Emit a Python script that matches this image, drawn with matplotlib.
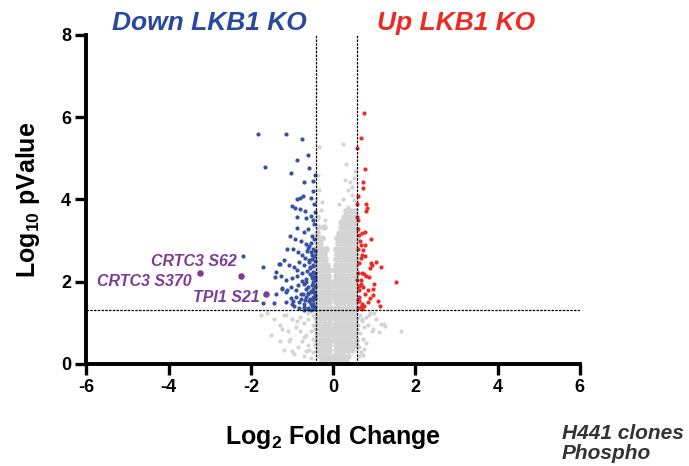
import matplotlib
matplotlib.use('Agg')
import matplotlib.pyplot as plt

plt.rcParams['font.family'] = ['Liberation Sans', 'DejaVu Sans']
plt.rcParams['mathtext.fontset'] = 'custom'
plt.rcParams['mathtext.rm'] = 'Liberation Sans:bold'
plt.rcParams['mathtext.default'] = 'rm'
plt.rcParams['axes.unicode_minus'] = False

# Thresholds
fc_low = -0.415
fc_high = 0.585
p_cut = 1.3

# Gray (not significant) core, read row by row: y level -> x positions
core_y = [0.08, 0.20, 0.33, 0.46, 0.59, 0.72, 0.85, 0.98, 1.11, 1.24, 1.37, 1.50,
          1.63, 1.76, 1.89, 2.02, 2.15, 2.28, 2.41, 2.54, 2.67, 2.80, 2.93, 3.06,
          3.19, 3.32, 3.45, 3.58, 3.72]
core_x = [
    [-0.28, -0.18, -0.08, 0.04, 0.13, 0.22, 0.31],
    [-0.33, -0.24, -0.14, -0.05, 0.05, 0.15, 0.25, 0.36],
    [-0.38, -0.29, -0.19, -0.09, 0.06, 0.16, 0.26, 0.36, 0.45],
    [-0.40, -0.31, -0.21, -0.11, 0.07, 0.17, 0.27, 0.37, 0.47, 0.55],
    [-0.41, -0.32, -0.22, -0.12, -0.04, 0.07, 0.18, 0.28, 0.38, 0.48, 0.56],
    [-0.40, -0.30, -0.20, -0.10, -0.03, 0.05, 0.14, 0.24, 0.34, 0.44, 0.54],
    [-0.41, -0.33, -0.23, -0.13, -0.04, 0.06, 0.16, 0.26, 0.36, 0.46, 0.56],
    [-0.39, -0.29, -0.19, -0.09, 0.05, 0.13, 0.23, 0.33, 0.43, 0.53],
    [-0.41, -0.31, -0.21, -0.11, -0.04, 0.06, 0.16, 0.26, 0.36, 0.46, 0.56],
    [-0.40, -0.30, -0.20, -0.10, 0.05, 0.14, 0.24, 0.34, 0.44, 0.54],
    [-0.41, -0.32, -0.22, -0.12, -0.05, 0.07, 0.17, 0.27, 0.37, 0.47, 0.56],
    [-0.40, -0.30, -0.20, -0.10, 0.06, 0.15, 0.25, 0.35, 0.45, 0.55],
    [-0.41, -0.31, -0.21, -0.11, -0.03, 0.05, 0.14, 0.24, 0.34, 0.44, 0.54],
    [-0.40, -0.30, -0.20, -0.10, 0.02, 0.12, 0.22, 0.32, 0.42, 0.52],
    [-0.41, -0.32, -0.22, -0.12, -0.04, 0.06, 0.16, 0.26, 0.36, 0.46, 0.56],
    [-0.40, -0.30, -0.20, -0.10, 0.04, 0.14, 0.24, 0.34, 0.44, 0.54],
    [-0.41, -0.31, -0.21, -0.13, 0.07, 0.17, 0.27, 0.37, 0.47, 0.56],
    [-0.40, -0.30, -0.20, -0.09, 0.05, 0.15, 0.25, 0.35, 0.45, 0.55],
    [-0.41, -0.32, -0.22, -0.14, 0.08, 0.18, 0.28, 0.38, 0.48, 0.56],
    [-0.40, -0.30, -0.19, 0.06, 0.16, 0.26, 0.36, 0.46, 0.55],
    [-0.41, -0.33, -0.22, 0.10, 0.20, 0.30, 0.40, 0.50, 0.56],
    [-0.39, -0.28, -0.17, 0.08, 0.18, 0.28, 0.38, 0.48, 0.55],
    [-0.40, -0.31, 0.12, 0.22, 0.32, 0.42, 0.52],
    [-0.38, -0.26, 0.10, 0.20, 0.30, 0.40, 0.50, 0.56],
    [-0.40, 0.14, 0.24, 0.34, 0.44, 0.54],
    [-0.36, -0.22, 0.18, 0.28, 0.38, 0.48, 0.56],
    [0.20, 0.30, 0.40, 0.50],
    [-0.39, 0.26, 0.36, 0.46, 0.55],
    [0.32, 0.44, 0.53],
]

# Scattered gray points
gray_x = [0.25, -0.34, 0.32, 0.29, 0.41, 0.51, -0.34, -0.26, -0.41, 0.35, 0.47, 0.23,
          0.37, 0.51, 0.47, -0.30, -0.20, 0.15, -0.38, 0.54,
          -0.50, -0.60, -0.50, -0.70, -0.55, -0.65, -0.80, -0.90, -0.50, -0.60, -0.75,
          -0.50, -0.85, -1.00, -1.10, -1.20, -1.30, -1.05, -1.45, -1.60, -1.30, -0.95,
          -1.50, -0.70, -1.20, -1.75, -0.55, -0.80, -0.45, -0.45, -0.71, -0.67, -1.24,
          -1.07, -0.99, -1.15, -0.62, -0.58, -0.88,
          0.65, 0.70, 0.80, 0.75, 0.85, 0.90, 0.65, 0.72, 0.95, 1.05, 1.16, 1.27, 1.12,
          1.65, 0.72, 0.62, 0.68, 0.80, 1.00, 0.60, 1.24, 0.88, 0.96, 0.63, 0.76, 0.70]
gray_y = [5.34, 5.28, 4.85, 4.47, 4.43, 4.51, 4.23, 3.94, 4.02, 4.23, 4.31, 4.02,
          3.82, 3.98, 4.10, 3.75, 3.50, 3.90, 4.60, 4.70,
          1.20, 1.10, 0.95, 1.00, 0.80, 0.70, 1.15, 0.90, 0.60, 0.45, 0.55,
          0.30, 0.40, 1.10, 0.80, 1.20, 0.95, 0.60, 1.10, 1.25, 0.55, 0.25,
          0.70, 0.20, 0.35, 1.20, 0.15, 0.80, 0.45, 0.90, 0.65, 0.32, 0.85,
          0.57, 0.32, 1.18, 1.25, 0.35, 1.05,
          1.20, 1.05, 1.15, 0.90, 0.95, 1.25, 0.75, 0.60, 0.80, 1.10, 0.98, 0.93, 0.77,
          0.81, 0.22, 0.40, 0.30, 0.50, 1.25, 0.95, 0.98, 1.18, 0.85, 0.20, 0.37, 1.10]

# Down in LKB1 KO (blue)
down_x = [-1.83, -1.15, -0.76, -0.61, -0.87, -1.65, -1.02, -0.59, -0.71, -0.49,
          -0.87, -0.80, -0.73, -0.54, -1.00, -0.93, -0.80, -0.68, -0.87, -0.65, -0.53,
          -0.87, -0.71, -0.60, -0.52, -1.06, -0.93, -0.79, -0.67, -0.54,
          -1.11, -0.98, -0.85, -0.75, -0.63, -0.52, -2.19, -1.70,
          -1.32, -1.20, -1.07, -0.95, -0.83, -0.71, -0.59, -0.49,
          -1.40, -1.41, -1.28, -1.14, -1.01, -0.87, -0.76, -0.65, -0.52,
          -1.40, -1.25, -1.14, -1.03, -0.91, -0.79, -0.67, -0.54,
          -1.70, -1.44, -1.15, -0.98, -0.83, -0.71, -0.59, -0.49,
          -1.30, -1.24, -1.11, -0.99,
          -0.45, -0.52, -0.60, -0.70, -0.82, -0.95,
          -0.44, -0.50, -0.57, -0.66, -0.78, -0.90, -1.02,
          -0.45, -0.52, -0.60, -0.70, -0.85,
          -0.44, -0.49, -0.56, -0.64, -0.75, -0.88,
          -0.45, -0.51, -0.58, -0.69,
          -0.44, -0.48, -0.55, -0.62,
          -0.47, -0.45, -0.46, -0.50, -0.44, -0.48, -0.53, -0.62, -0.46, -0.50,
          -0.56, -0.47, -0.43, -0.58, -0.44, -0.49,
          -0.47, -0.55, -0.62, -0.72, -0.48, -0.58, -0.68, -0.46, -0.53, -0.61,
          -0.74, -0.45, -0.51, -0.66, -0.49, -0.57]
down_y = [5.59, 5.59, 5.47, 5.09, 4.95, 4.78, 4.65, 4.76, 4.43, 4.45,
          4.02, 4.04, 4.09, 4.04, 3.85, 3.80, 3.76, 3.73, 3.58, 3.54, 3.60,
          3.31, 3.21, 3.29, 3.11, 3.11, 3.05, 2.98, 2.92, 2.95,
          2.79, 2.80, 2.72, 2.64, 2.74, 2.64, 2.62, 2.36,
          2.44, 2.52, 2.41, 2.36, 2.48, 2.40, 2.52, 2.40,
          2.24, 2.11, 2.15, 2.03, 2.09, 2.15, 2.01, 2.07, 2.15,
          1.71, 1.83, 1.75, 1.87, 1.79, 1.71, 1.83, 1.75,
          1.49, 1.48, 1.50, 1.54, 1.50, 1.46, 1.52, 1.46,
          2.44, 1.85, 1.79, 1.46,
          1.38, 1.40, 1.36, 1.39, 1.37, 1.41,
          1.60, 1.63, 1.58, 1.62, 1.59, 1.64, 1.61,
          1.90, 1.93, 1.88, 1.95, 1.91,
          2.20, 2.24, 2.18, 2.26, 2.21, 2.28,
          2.50, 2.55, 2.47, 2.57,
          2.75, 2.79, 2.72, 2.82,
          3.40, 3.70, 3.90, 4.20, 4.60, 2.00, 1.45, 1.70, 3.05, 3.50,
          2.35, 2.62, 1.68, 2.88, 2.12, 1.82,
          1.33, 1.31, 1.34, 1.32, 1.55, 1.52, 1.56, 1.74, 1.77, 1.72,
          1.70, 2.05, 2.08, 2.00, 2.38, 2.33]

# Up in LKB1 KO (red)
up_x = [0.76, 0.67, 0.59, 0.77, 0.73, 0.72, 0.61, 0.80, 0.82, 0.81, 0.59, 0.61,
        0.61, 0.70, 0.77, 0.92, 0.63, 0.67, 0.77, 0.73,
        0.70, 0.67, 0.78, 0.92, 0.94, 1.04, 1.17, 0.89,
        0.70, 0.76, 0.81, 0.88, 1.00, 1.54,
        0.59, 0.67, 0.73, 0.84, 0.96, 0.62, 0.78, 0.90, 0.98,
        0.63, 0.70, 0.76, 1.10, 1.15, 0.67,
        0.60, 0.64, 0.60, 0.62, 0.60, 0.65, 0.59, 0.62, 0.68, 0.60, 0.71, 0.86]
up_y = [6.09, 5.50, 5.26, 4.74, 4.43, 4.27, 4.09, 3.88, 3.80, 3.72, 3.58, 3.50,
        3.29, 3.19, 3.21, 3.03, 3.13, 2.90, 2.89, 2.76,
        2.66, 2.58, 2.63, 2.45, 2.40, 2.48, 2.35, 2.33,
        2.22, 2.18, 2.15, 2.11, 1.95, 1.99,
        2.03, 1.95, 1.87, 1.80, 1.83, 1.79, 1.71, 1.60, 1.67,
        1.52, 1.46, 1.42, 1.53, 1.42, 1.38,
        1.36, 1.62, 2.20, 2.45, 2.80, 3.00, 3.90, 1.90, 2.05, 1.55, 1.34, 1.50]

# Highlighted phosphosites
hit_names = ['CRTC3 S62', 'CRTC3 S370', 'TPI1 S21']
hit_x = [-2.25, -3.24, -1.64]
hit_y = [2.15, 2.22, 1.71]

blue = '#3552A3'
red = '#EE2A24'
purple = '#7E3C98'
gray = '#D4D4D4'

fig = plt.figure(figsize=(6.89, 4.66), dpi=100)
ax = fig.add_axes([0.1255, 0.219, 0.716, 0.706])

cx = []
cy = []
for yv, xs in zip(core_y, core_x):
    for xv in xs:
        cx.append(xv)
        cy.append(yv)
ax.scatter(cx, cy, s=22, color=gray, linewidths=0, zorder=1)
ax.scatter(gray_x, gray_y, s=9, color=gray, linewidths=0, zorder=1)
ax.scatter(down_x, down_y, s=9, color=blue, linewidths=0, zorder=2)
ax.scatter(up_x, up_y, s=9, color=red, linewidths=0, zorder=2)
ax.scatter(hit_x, hit_y, s=22, color=purple, linewidths=0, zorder=3)

# Threshold lines
ax.plot([fc_low, fc_low], [0, 8], color='black', lw=0.9, ls=(0, (2, 1)), zorder=4)
ax.plot([fc_high, fc_high], [0, 8], color='black', lw=0.9, ls=(0, (2, 1)), zorder=4)
ax.plot([-6, 6], [p_cut, p_cut], color='black', lw=0.9, ls=(0, (2, 1)), zorder=4)

# Labels for hits
label_pos = [(-2.35, 2.5, 'right'), (-3.45, 2.0, 'right'), (-1.8, 1.62, 'right')]
for name, (lx, ly, ha) in zip(hit_names, label_pos):
    ax.text(lx, ly, name, color=purple, fontsize=11.5, fontweight='bold',
            fontstyle='italic', ha=ha, va='center')

ax.set_xlim(-6, 6)
ax.set_ylim(0, 8)
ax.set_xticks([-6, -4, -2, 0, 2, 4, 6])
ax.set_yticks([0, 2, 4, 6, 8])
for side in ['top', 'right']:
    ax.spines[side].set_visible(False)
for side in ['left', 'bottom']:
    ax.spines[side].set_linewidth(2.8)
ax.tick_params(width=2.4, length=8, labelsize=13, pad=3)
for lab in ax.get_xticklabels() + ax.get_yticklabels():
    lab.set_fontweight('bold')

ax.set_xlabel('Log$_2$ Fold Change', fontsize=18, fontweight='bold', labelpad=19)
ax.set_ylabel('Log$_{10}$ pValue', fontsize=18, fontweight='bold', labelpad=14)

ax.text(0.249, 1.037, 'Down LKB1 KO', transform=ax.transAxes, color='#2A48A0',
        fontsize=19, fontweight='bold', fontstyle='italic', ha='center', va='center')
ax.text(0.75, 1.037, 'Up LKB1 KO', transform=ax.transAxes, color='#EE2A24',
        fontsize=19, fontweight='bold', fontstyle='italic', ha='center', va='center')

fig.text(0.815, 0.049, 'H441 clones\nPhospho', color='#333333', fontsize=15,
         fontweight='bold', fontstyle='italic', ha='left', va='center', linespacing=1.05)

fig.savefig('out.png', dpi=100)
